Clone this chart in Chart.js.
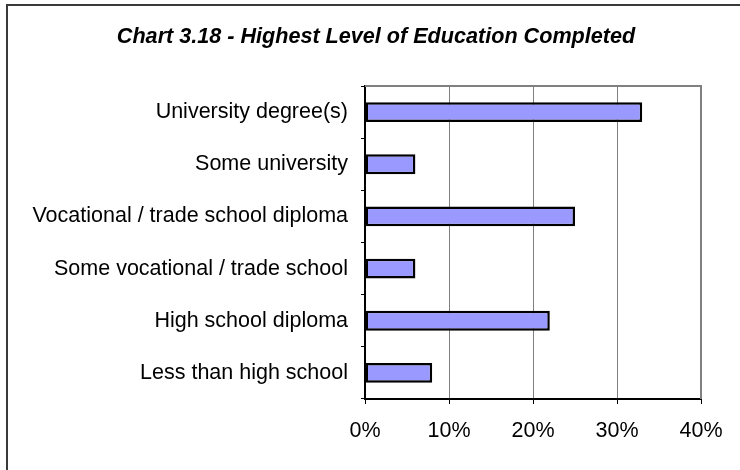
<!DOCTYPE html>
<html>
<head>
<meta charset="utf-8">
<title>Chart 3.18 - Highest Level of Education Completed</title>
<script src="https://cdn.jsdelivr.net/npm/chart.js@4/dist/chart.umd.min.js"></script>
<style>
  html, body { margin: 0; padding: 0; background: #ffffff; }
  #wrap { position: relative; width: 740px; height: 470px; }
</style>
</head>
<body>
<div id="wrap"><canvas id="chart" width="740" height="470"></canvas></div>
<script>
// Education levels, top to bottom
const categories = [
  'University degree(s)',
  'Some university',
  'Vocational / trade school diploma',
  'Some vocational / trade school',
  'High school diploma',
  'Less than high school'
];
// Share of respondents, percent
const shares = [33, 6, 25, 6, 22, 8];
// Horizontal axis ticks, percent
const tickValues = [0, 10, 20, 30, 40];

const chartTitle = 'Chart 3.18 - Highest Level of Education Completed';
const FONT = '"Liberation Sans", Arial, Helvetica, sans-serif';

// Outer frame, title, and the top/right plot border
const framePlugin = {
  id: 'frame',
  beforeDraw(chart) {
    const ctx = chart.ctx;
    ctx.save();
    ctx.fillStyle = '#ffffff';
    ctx.fillRect(0, 0, chart.width, chart.height);
    ctx.strokeStyle = '#3a3a3a';
    ctx.lineWidth = 2;
    ctx.beginPath();
    ctx.moveTo(7, chart.height);
    ctx.lineTo(7, 5);
    ctx.lineTo(chart.width, 5);
    ctx.stroke();
    ctx.restore();
  },
  afterDraw(chart) {
    const ctx = chart.ctx;
    const a = chart.chartArea;
    ctx.save();
    ctx.strokeStyle = '#808080';
    ctx.lineWidth = 2;
    ctx.beginPath();
    ctx.moveTo(a.left, a.top);
    ctx.lineTo(a.right, a.top);
    ctx.lineTo(a.right, a.bottom);
    ctx.stroke();
    ctx.fillStyle = '#000000';
    ctx.font = 'italic bold 21.6px ' + FONT;
    ctx.textAlign = 'center';
    ctx.textBaseline = 'alphabetic';
    ctx.fillText(chartTitle, 376, 43);
    ctx.restore();
  }
};

new Chart(document.getElementById('chart'), {
  type: 'bar',
  data: {
    labels: categories,
    datasets: [{
      data: shares,
      backgroundColor: '#9999FF',
      borderColor: '#000000',
      borderWidth: 2.5,
      borderSkipped: false,
      barPercentage: 0.38,
      categoryPercentage: 1.0
    }]
  },
  options: {
    indexAxis: 'y',
    responsive: false,
    animation: false,
    devicePixelRatio: 1,
    layout: { padding: { top: 86, right: 39, bottom: 0, left: 0 } },
    plugins: {
      legend: { display: false },
      title: { display: false },
      tooltip: { enabled: false }
    },
    scales: {
      x: {
        type: 'linear',
        min: tickValues[0],
        max: tickValues[tickValues.length - 1],
        afterBuildTicks(scale) {
          scale.ticks = tickValues.map(v => ({ value: v }));
        },
        afterFit(scale) { scale.height = 71; },
        border: { display: true, color: '#000000', width: 2 },
        grid: {
          color: '#808080',
          lineWidth: 1,
          tickColor: '#000000',
          tickLength: 5,
          drawTicks: true
        },
        ticks: {
          color: '#000000',
          font: { family: FONT, size: 21.5 },
          padding: 14,
          maxRotation: 0,
          callback: v => v + '%'
        }
      },
      y: {
        type: 'category',
        offset: true,
        afterFit(scale) { scale.width = 365; },
        border: { display: true, color: '#000000', width: 2 },
        grid: {
          offset: true,
          drawOnChartArea: false,
          tickColor: '#000000',
          tickLength: 4
        },
        ticks: {
          color: '#000000',
          font: { family: FONT, size: 21.5 },
          padding: 13
        }
      }
    }
  },
  plugins: [framePlugin]
});
</script>
</body>
</html>
